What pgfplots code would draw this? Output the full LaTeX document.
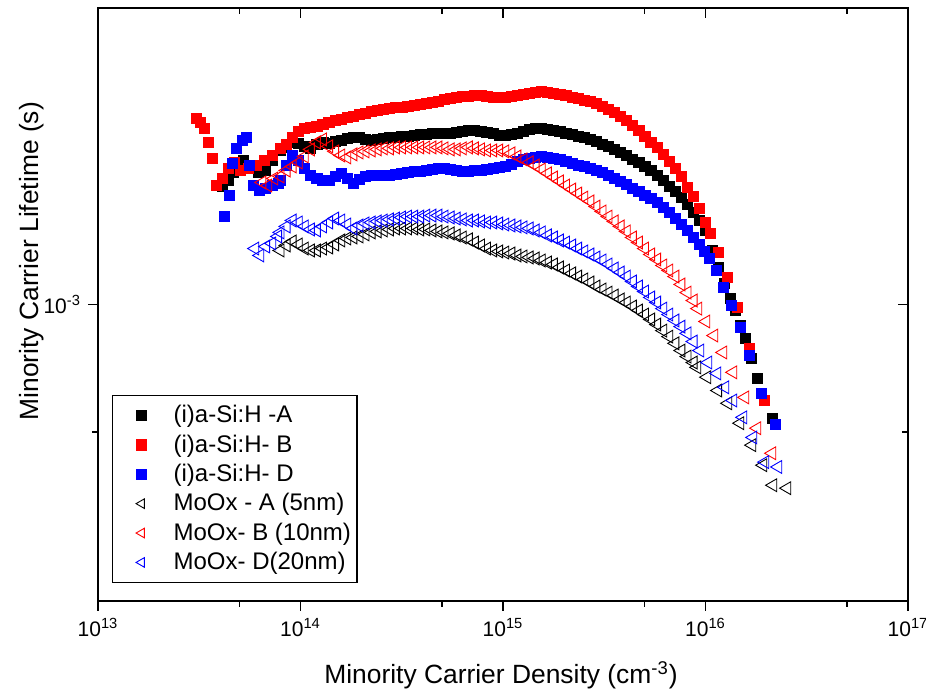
\documentclass[border=0pt]{standalone}
\usepackage{pgfplots}
\pgfplotsset{compat=1.18}
\usepackage{fontspec}
\setmainfont{Liberation Sans}
\definecolor{oRed}{RGB}{255,0,0}
\definecolor{oBlue}{RGB}{0,0,255}
\pgfplotsset{myleg/.style={legend image code/.code={\path[draw=none,fill=none] (0pt,-3pt) (27.5pt,3pt); \draw[##1] plot coordinates {(13.5pt,0pt)};}}}
\begin{document}
\begin{tikzpicture}
\begin{axis}[
  at={(0,0)}, anchor=south west,
  scale only axis, width=405pt, height=296.5pt,
  xmode=log, ymode=log,
  xmin=1e13, xmax=1e17, ymin=2e-4, ymax=5e-3,
  xtick={1e13,1e14,1e15,1e16,1e17},
  xticklabels={10\textsuperscript{13},10\textsuperscript{14},10\textsuperscript{15},10\textsuperscript{16},10\textsuperscript{17}},
  minor xtick={5e13,5e14,5e15,5e16},
  ytick={1e-3}, yticklabels={10\textsuperscript{-3}},
  minor ytick={5e-4},
  xtick pos=bottom, ytick pos=left, tick align=outside,
  major tick length=5pt, minor tick length=3pt,
  every tick/.style={black, line width=0.9pt},
  axis line style={line width=0.9pt},
  tick label style={font=\fontsize{10.5}{12}\selectfont},
  xlabel={Minority Carrier Density (cm\textsuperscript{-3})},
  ylabel={Minority Carrier Lifetime (s)},
  label style={font=\fontsize{13.2}{15}\selectfont},
  xlabel style={at={(axis description cs:0.4975,-0.125)}, anchor=center},
  ylabel style={at={(axis description cs:-0.082,0.573)}, anchor=center, rotate=0},
  legend cell align=left,
  legend style={at={(axis description cs:0.0173,0.030)}, anchor=south west,
    font=\fontsize{12}{13}\selectfont, draw=black, line width=0.6pt,
    row sep=0.5pt, inner xsep=1pt, inner ysep=3pt},
]
% (i)a-Si:H -A
\addplot[only marks, mark=square*, mark size=2.55pt, mark options={draw=black, fill=black, line width=0.3pt}, myleg] table {
4.10e13 1.898e-3
4.39e13 1.961e-3
4.64e13 2.048e-3
4.86e13 2.070e-3
5.20e13 2.186e-3
5.63e13 2.093e-3
6.17e13 2.048e-3
6.68e13 2.070e-3
7.23e13 2.186e-3
7.943e13 2.308e-3
8.511e13 2.346e-3
9.120e13 2.411e-3
9.772e13 2.398e-3
1.047e14 2.359e-3
1.122e14 2.334e-3
1.202e14 2.385e-3
1.288e14 2.411e-3
1.380e14 2.398e-3
1.479e14 2.424e-3
1.585e14 2.437e-3
1.698e14 2.464e-3
1.820e14 2.477e-3
1.950e14 2.477e-3
2.089e14 2.450e-3
2.239e14 2.437e-3
2.399e14 2.450e-3
2.570e14 2.464e-3
2.754e14 2.477e-3
2.951e14 2.477e-3
3.162e14 2.490e-3
3.388e14 2.490e-3
3.631e14 2.504e-3
3.890e14 2.518e-3
4.169e14 2.518e-3
4.467e14 2.531e-3
4.786e14 2.531e-3
5.129e14 2.531e-3
5.495e14 2.531e-3
5.888e14 2.545e-3
6.310e14 2.559e-3
6.761e14 2.573e-3
7.244e14 2.573e-3
7.762e14 2.559e-3
8.318e14 2.545e-3
8.913e14 2.531e-3
9.550e14 2.504e-3
1.023e15 2.504e-3
1.096e15 2.518e-3
1.175e15 2.531e-3
1.259e15 2.559e-3
1.349e15 2.587e-3
1.445e15 2.601e-3
1.549e15 2.601e-3
1.660e15 2.587e-3
1.778e15 2.573e-3
1.905e15 2.559e-3
2.042e15 2.531e-3
2.188e15 2.518e-3
2.344e15 2.490e-3
2.512e15 2.477e-3
2.692e15 2.450e-3
2.884e15 2.424e-3
3.090e15 2.385e-3
3.311e15 2.359e-3
3.548e15 2.321e-3
3.802e15 2.283e-3
4.074e15 2.246e-3
4.365e15 2.198e-3
4.677e15 2.163e-3
5.012e15 2.116e-3
5.370e15 2.070e-3
5.754e15 2.015e-3
6.166e15 1.961e-3
6.607e15 1.898e-3
7.079e15 1.847e-3
7.586e15 1.787e-3
8.128e15 1.721e-3
8.710e15 1.648e-3
9.29e15 1.578e-3
9.94e15 1.495e-3
1.077e16 1.341e-3
1.152e16 1.222e-3
1.234e16 1.121e-3
1.321e16 1.033e-3
1.399e16 0.968e-3
1.481e16 0.892e-3
1.567e16 0.831e-3
1.678e16 0.746e-3
1.796e16 0.670e-3
1.945e16 0.594e-3
2.130e16 0.539e-3
};
\addlegendentry{(i)a-Si:H -A}
% (i)a-Si:H- B
\addplot[only marks, mark=square*, mark size=2.55pt, mark options={draw=oRed, fill=oRed, line width=0.3pt}, myleg] table {
3.05e13 2.746e-3
3.19e13 2.687e-3
3.34e13 2.601e-3
3.49e13 2.411e-3
3.66e13 2.210e-3
3.83e13 1.908e-3
4.10e13 1.982e-3
4.39e13 2.093e-3
4.69e13 2.163e-3
5.02e13 2.070e-3
5.50e13 2.093e-3
6.03e13 2.127e-3
6.60e13 2.186e-3
7.23e13 2.246e-3
7.943e13 2.334e-3
8.511e13 2.385e-3
9.120e13 2.477e-3
9.772e13 2.559e-3
1.047e14 2.601e-3
1.122e14 2.615e-3
1.202e14 2.629e-3
1.288e14 2.658e-3
1.380e14 2.687e-3
1.479e14 2.716e-3
1.585e14 2.731e-3
1.698e14 2.761e-3
1.820e14 2.776e-3
1.950e14 2.806e-3
2.089e14 2.822e-3
2.239e14 2.852e-3
2.399e14 2.868e-3
2.570e14 2.883e-3
2.754e14 2.899e-3
2.951e14 2.915e-3
3.162e14 2.915e-3
3.388e14 2.931e-3
3.631e14 2.947e-3
3.890e14 2.963e-3
4.169e14 2.979e-3
4.467e14 2.995e-3
4.786e14 3.011e-3
5.129e14 3.044e-3
5.495e14 3.061e-3
5.888e14 3.077e-3
6.310e14 3.094e-3
6.761e14 3.094e-3
7.244e14 3.111e-3
7.762e14 3.111e-3
8.318e14 3.094e-3
8.913e14 3.077e-3
9.550e14 3.077e-3
1.023e15 3.077e-3
1.096e15 3.094e-3
1.175e15 3.111e-3
1.259e15 3.128e-3
1.349e15 3.145e-3
1.445e15 3.162e-3
1.549e15 3.180e-3
1.660e15 3.162e-3
1.778e15 3.145e-3
1.905e15 3.128e-3
2.042e15 3.111e-3
2.188e15 3.077e-3
2.344e15 3.061e-3
2.512e15 3.028e-3
2.692e15 3.011e-3
2.884e15 2.979e-3
3.090e15 2.931e-3
3.311e15 2.883e-3
3.548e15 2.837e-3
3.802e15 2.776e-3
4.074e15 2.716e-3
4.365e15 2.643e-3
4.677e15 2.573e-3
5.012e15 2.490e-3
5.370e15 2.411e-3
5.754e15 2.346e-3
6.166e15 2.259e-3
6.607e15 2.175e-3
7.079e15 2.093e-3
7.586e15 2.004e-3
8.128e15 1.887e-3
8.710e15 1.797e-3
9.29e15 1.684e-3
9.94e15 1.561e-3
1.052e16 1.471e-3
1.152e16 1.326e-3
1.277e16 1.158e-3
1.431e16 0.984e-3
1.640e16 0.788e-3
1.945e16 0.594e-3
};
\addlegendentry{(i)a-Si:H- B}
% (i)a-Si:H- D
\addplot[only marks, mark=square*, mark size=2.55pt, mark options={draw=oBlue, fill=oBlue, line width=0.3pt}, myleg] table {
4.19e13 1.612e-3
4.44e13 1.807e-3
4.59e13 2.151e-3
4.80e13 2.334e-3
5.14e13 2.437e-3
5.38e13 2.477e-3
5.57e13 2.127e-3
5.83e13 1.908e-3
6.24e13 1.857e-3
6.68e13 1.877e-3
7.23e13 1.908e-3
7.74e13 1.929e-3
7.943e13 1.961e-3
8.511e13 2.127e-3
9.120e13 2.246e-3
9.772e13 2.186e-3
1.047e14 2.093e-3
1.122e14 2.015e-3
1.202e14 1.982e-3
1.288e14 1.961e-3
1.380e14 1.961e-3
1.479e14 2.004e-3
1.585e14 2.037e-3
1.698e14 1.982e-3
1.820e14 1.929e-3
1.950e14 1.971e-3
2.089e14 2.004e-3
2.239e14 2.015e-3
2.399e14 2.015e-3
2.570e14 2.015e-3
2.754e14 2.015e-3
2.951e14 2.026e-3
3.162e14 2.037e-3
3.388e14 2.048e-3
3.631e14 2.059e-3
3.890e14 2.059e-3
4.169e14 2.070e-3
4.467e14 2.081e-3
4.786e14 2.093e-3
5.129e14 2.093e-3
5.495e14 2.081e-3
5.888e14 2.070e-3
6.310e14 2.059e-3
6.761e14 2.059e-3
7.244e14 2.070e-3
7.762e14 2.070e-3
8.318e14 2.081e-3
8.913e14 2.093e-3
9.550e14 2.104e-3
1.023e15 2.116e-3
1.096e15 2.139e-3
1.175e15 2.175e-3
1.259e15 2.198e-3
1.349e15 2.210e-3
1.445e15 2.222e-3
1.549e15 2.234e-3
1.660e15 2.222e-3
1.778e15 2.210e-3
1.905e15 2.198e-3
2.042e15 2.175e-3
2.188e15 2.151e-3
2.344e15 2.127e-3
2.512e15 2.116e-3
2.692e15 2.093e-3
2.884e15 2.070e-3
3.090e15 2.048e-3
3.311e15 2.015e-3
3.548e15 1.982e-3
3.802e15 1.951e-3
4.074e15 1.919e-3
4.365e15 1.877e-3
4.677e15 1.847e-3
5.012e15 1.807e-3
5.370e15 1.778e-3
5.754e15 1.740e-3
6.166e15 1.693e-3
6.607e15 1.648e-3
7.079e15 1.595e-3
7.586e15 1.544e-3
8.128e15 1.495e-3
8.710e15 1.439e-3
9.29e15 1.385e-3
9.83e15 1.334e-3
1.040e16 1.284e-3
1.127e16 1.203e-3
1.220e16 1.097e-3
1.336e16 0.995e-3
1.481e16 0.883e-3
1.640e16 0.759e-3
1.880e16 0.618e-3
2.204e16 0.522e-3
};
\addlegendentry{(i)a-Si:H- D}
% MoOx - A (5nm)
\addplot[only marks, mark=triangle, mark size=3.7pt, mark options={rotate=90, draw=black, fill=white, line width=0.45pt}, myleg, legend image post style={mark size=2.8pt}] table {
7.943e13 1.341e-3
8.511e13 1.378e-3
9.120e13 1.408e-3
9.772e13 1.385e-3
1.047e14 1.355e-3
1.122e14 1.341e-3
1.202e14 1.341e-3
1.288e14 1.355e-3
1.380e14 1.363e-3
1.479e14 1.385e-3
1.585e14 1.416e-3
1.698e14 1.431e-3
1.820e14 1.439e-3
1.950e14 1.447e-3
2.089e14 1.463e-3
2.239e14 1.479e-3
2.399e14 1.487e-3
2.570e14 1.495e-3
2.754e14 1.503e-3
2.951e14 1.511e-3
3.162e14 1.511e-3
3.388e14 1.511e-3
3.631e14 1.511e-3
3.890e14 1.503e-3
4.169e14 1.503e-3
4.467e14 1.495e-3
4.786e14 1.487e-3
5.129e14 1.479e-3
5.495e14 1.471e-3
5.888e14 1.455e-3
6.310e14 1.439e-3
6.761e14 1.424e-3
7.244e14 1.400e-3
7.762e14 1.378e-3
8.318e14 1.355e-3
8.913e14 1.341e-3
9.550e14 1.334e-3
1.023e15 1.326e-3
1.096e15 1.319e-3
1.175e15 1.305e-3
1.259e15 1.298e-3
1.349e15 1.291e-3
1.445e15 1.284e-3
1.549e15 1.270e-3
1.660e15 1.256e-3
1.778e15 1.243e-3
1.905e15 1.223e-3
2.042e15 1.203e-3
2.188e15 1.184e-3
2.344e15 1.164e-3
2.512e15 1.146e-3
2.692e15 1.127e-3
2.884e15 1.103e-3
3.090e15 1.085e-3
3.311e15 1.067e-3
3.548e15 1.050e-3
3.802e15 1.028e-3
4.074e15 1.011e-3
4.365e15 0.989e-3
4.677e15 0.968e-3
5.012e15 0.947e-3
5.370e15 0.922e-3
5.754e15 0.897e-3
6.166e15 0.868e-3
6.607e15 0.840e-3
7.079e15 0.810e-3
7.586e15 0.779e-3
8.128e15 0.754e-3
8.710e15 0.730e-3
9.08e15 0.711e-3
1.017e16 0.674e-3
1.152e16 0.627e-3
1.291e16 0.585e-3
1.481e16 0.525e-3
1.697e16 0.466e-3
1.923e16 0.418e-3
2.154e16 0.375e-3
2.526e16 0.369e-3
};
\addlegendentry{MoOx - A (5nm)}
% MoOx- B (10nm)
\addplot[only marks, mark=triangle, mark size=3.7pt, mark options={rotate=90, draw=oRed, fill=white, line width=0.45pt}, myleg, legend image post style={mark size=2.8pt}] table {
6.46e13 1.940e-3
6.91e13 1.908e-3
7.40e13 1.982e-3
7.943e13 2.004e-3
8.511e13 2.070e-3
9.120e13 2.116e-3
9.772e13 2.163e-3
1.047e14 2.234e-3
1.122e14 2.321e-3
1.202e14 2.411e-3
1.288e14 2.450e-3
1.380e14 2.359e-3
1.479e14 2.296e-3
1.585e14 2.246e-3
1.698e14 2.222e-3
1.820e14 2.259e-3
1.950e14 2.283e-3
2.089e14 2.296e-3
2.239e14 2.308e-3
2.399e14 2.321e-3
2.570e14 2.334e-3
2.754e14 2.334e-3
2.951e14 2.346e-3
3.162e14 2.346e-3
3.388e14 2.346e-3
3.631e14 2.346e-3
3.890e14 2.346e-3
4.169e14 2.346e-3
4.467e14 2.346e-3
4.786e14 2.346e-3
5.129e14 2.334e-3
5.495e14 2.321e-3
5.888e14 2.321e-3
6.310e14 2.334e-3
6.761e14 2.346e-3
7.244e14 2.334e-3
7.762e14 2.321e-3
8.318e14 2.308e-3
8.913e14 2.308e-3
9.550e14 2.308e-3
1.023e15 2.296e-3
1.096e15 2.271e-3
1.175e15 2.234e-3
1.259e15 2.198e-3
1.349e15 2.163e-3
1.445e15 2.127e-3
1.549e15 2.081e-3
1.660e15 2.037e-3
1.778e15 1.993e-3
1.905e15 1.951e-3
2.042e15 1.908e-3
2.188e15 1.867e-3
2.344e15 1.827e-3
2.512e15 1.787e-3
2.692e15 1.750e-3
2.884e15 1.702e-3
3.090e15 1.657e-3
3.311e15 1.612e-3
3.548e15 1.570e-3
3.802e15 1.528e-3
4.074e15 1.487e-3
4.365e15 1.439e-3
4.677e15 1.400e-3
5.012e15 1.355e-3
5.370e15 1.312e-3
5.754e15 1.277e-3
6.166e15 1.236e-3
6.607e15 1.203e-3
7.079e15 1.164e-3
7.586e15 1.115e-3
8.128e15 1.067e-3
8.710e15 1.022e-3
9.18e15 0.978e-3
1.006e16 0.912e-3
1.102e16 0.845e-3
1.220e16 0.771e-3
1.367e16 0.692e-3
1.567e16 0.604e-3
1.796e16 0.511e-3
2.130e16 0.446e-3
};
\addlegendentry{MoOx- B (10nm)}
% MoOx- D(20nm)
\addplot[only marks, mark=triangle, mark size=3.7pt, mark options={rotate=90, draw=oBlue, fill=white, line width=0.45pt}, myleg, legend image post style={mark size=2.8pt}] table {
5.96e13 1.355e-3
6.31e13 1.305e-3
6.75e13 1.370e-3
7.23e13 1.393e-3
7.74e13 1.447e-3
7.943e13 1.479e-3
8.511e13 1.528e-3
9.120e13 1.578e-3
9.772e13 1.561e-3
1.047e14 1.528e-3
1.122e14 1.503e-3
1.202e14 1.495e-3
1.288e14 1.528e-3
1.380e14 1.561e-3
1.479e14 1.595e-3
1.585e14 1.578e-3
1.698e14 1.544e-3
1.820e14 1.511e-3
1.950e14 1.536e-3
2.089e14 1.553e-3
2.239e14 1.561e-3
2.399e14 1.570e-3
2.570e14 1.578e-3
2.754e14 1.587e-3
2.951e14 1.595e-3
3.162e14 1.604e-3
3.388e14 1.612e-3
3.631e14 1.612e-3
3.890e14 1.612e-3
4.169e14 1.621e-3
4.467e14 1.621e-3
4.786e14 1.621e-3
5.129e14 1.612e-3
5.495e14 1.604e-3
5.888e14 1.595e-3
6.310e14 1.587e-3
6.761e14 1.578e-3
7.244e14 1.578e-3
7.762e14 1.570e-3
8.318e14 1.561e-3
8.913e14 1.561e-3
9.550e14 1.553e-3
1.023e15 1.544e-3
1.096e15 1.536e-3
1.175e15 1.528e-3
1.259e15 1.520e-3
1.349e15 1.511e-3
1.445e15 1.495e-3
1.549e15 1.479e-3
1.660e15 1.455e-3
1.778e15 1.439e-3
1.905e15 1.416e-3
2.042e15 1.400e-3
2.188e15 1.378e-3
2.344e15 1.355e-3
2.512e15 1.334e-3
2.692e15 1.312e-3
2.884e15 1.291e-3
3.090e15 1.270e-3
3.311e15 1.243e-3
3.548e15 1.216e-3
3.802e15 1.190e-3
4.074e15 1.164e-3
4.365e15 1.133e-3
4.677e15 1.103e-3
5.012e15 1.073e-3
5.370e15 1.039e-3
5.754e15 1.011e-3
6.166e15 0.978e-3
6.607e15 0.947e-3
7.079e15 0.917e-3
7.586e15 0.887e-3
8.128e15 0.855e-3
8.710e15 0.818e-3
9.39e15 0.779e-3
1.029e16 0.730e-3
1.140e16 0.688e-3
1.248e16 0.638e-3
1.367e16 0.594e-3
1.532e16 0.542e-3
1.717e16 0.486e-3
1.967e16 0.425e-3
2.280e16 0.414e-3
};
\addlegendentry{MoOx- D(20nm)}
\end{axis}
% mirrored ticks on top and right, pointing inward
\begin{axis}[
  at={(0,0)}, anchor=south west,
  scale only axis, width=405pt, height=296.5pt,
  xmode=log, ymode=log,
  xmin=1e13, xmax=1e17, ymin=2e-4, ymax=5e-3,
  xtick={1e13,1e14,1e15,1e16,1e17},
  minor xtick={5e13,5e14,5e15,5e16},
  ytick={1e-3}, minor ytick={5e-4},
  xticklabels={}, yticklabels={},
  xtick pos=top, ytick pos=right, tick align=inside,
  major tick length=5pt, minor tick length=3pt,
  every tick/.style={black, line width=0.9pt},
  axis line style={draw=none},
]
\end{axis}
\pgfresetboundingbox
\path[use as bounding box] (-49pt,-47pt) rectangle (414pt,300.5pt);
\end{tikzpicture}
\end{document}
